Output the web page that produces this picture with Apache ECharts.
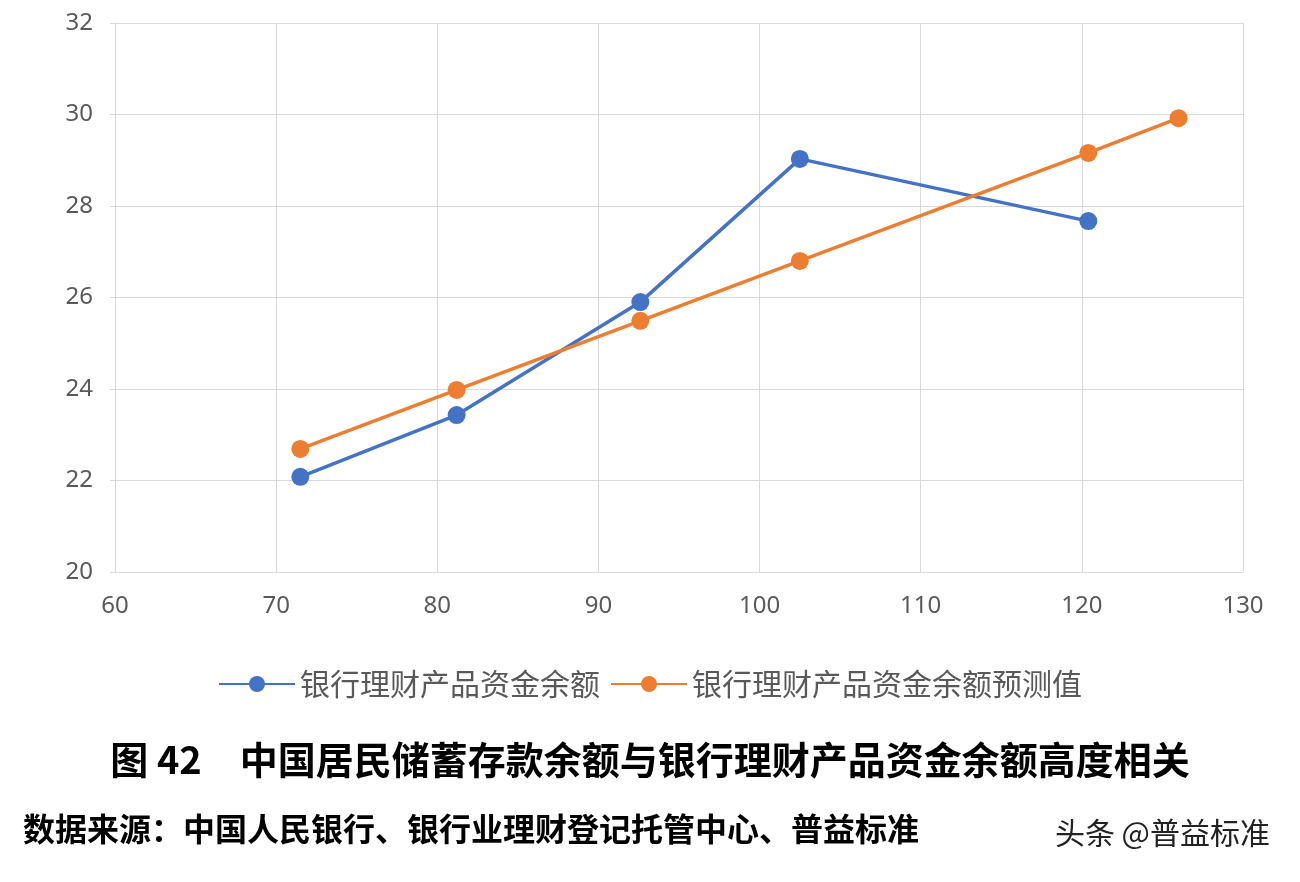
<!DOCTYPE html>
<html><head><meta charset="utf-8">
<script src="https://cdn.jsdelivr.net/npm/echarts@6/dist/echarts.min.js"></script>
<style>body{margin:0;background:#fff}#c{width:1300px;height:882px}</style>
</head><body><div id="c"></div>
<script>
const seriesNames = ['银行理财产品资金余额', '银行理财产品资金余额预测值'];
const actualX = [71.5, 81.2, 92.6, 102.5, 120.4];
const actualY = [22.08, 23.43, 25.9, 29.03, 27.67];
const predX = [71.5, 81.2, 92.6, 102.5, 120.4, 126.0];
const predY = [22.69, 23.98, 25.49, 26.8, 29.16, 29.92];
const titleText = '图 42　中国居民储蓄存款余额与银行理财产品资金余额高度相关';
const sourceText = '数据来源：中国人民银行、银行业理财登记托管中心、普益标准';
const pair = (xs, ys) => xs.map((x, i) => [x, ys[i]]);
const chart = echarts.init(document.getElementById('c'));
const ax = {color:'#595959', fontSize:24, fontFamily:'Noto Sans'};
chart.setOption({
  animation:false,
  grid:{left:115, right:57, top:23, bottom:310},
  xAxis:{type:'value', min:60, max:130, interval:10, axisLabel:{...ax, margin:22},
    axisLine:{lineStyle:{color:'#d9d9d9'}}, axisTick:{show:false}, splitLine:{lineStyle:{color:'#d9d9d9'}}},
  yAxis:{type:'value', min:20, max:32, interval:2, axisLabel:{...ax, margin:22},
    axisLine:{show:true, lineStyle:{color:'#d9d9d9'}}, splitLine:{lineStyle:{color:'#d9d9d9'}}},
  legend:{bottom:178, left:'center', itemWidth:76, itemHeight:20, itemGap:10,
    textStyle:{fontSize:30, color:'#595959', fontFamily:'Noto Sans CJK SC'}, data:seriesNames},
  title:[
    {text:titleText, left:'center', top:736, textStyle:{fontSize:38, fontWeight:'bold', color:'#000', fontFamily:'Noto Sans CJK SC'}},
    {text:sourceText, left:18, top:808, textStyle:{fontSize:32, fontWeight:'bold', color:'#000', fontFamily:'Noto Sans CJK SC'}},
    {text:'头条 @普益标准', right:25, top:813, textStyle:{fontSize:30, fontWeight:'normal', color:'#222', fontFamily:'Noto Sans CJK SC'}}
  ],
  series:[
    {name:seriesNames[0], type:'line', data:pair(actualX, actualY), symbol:'circle', symbolSize:18,
      lineStyle:{width:3.5, color:'#4472c4'}, itemStyle:{color:'#4472c4'}},
    {name:seriesNames[1], type:'line', data:pair(predX, predY), symbol:'circle', symbolSize:18,
      lineStyle:{width:3.5, color:'#ed7d31'}, itemStyle:{color:'#ed7d31'}}
  ]
});
</script></body></html>
